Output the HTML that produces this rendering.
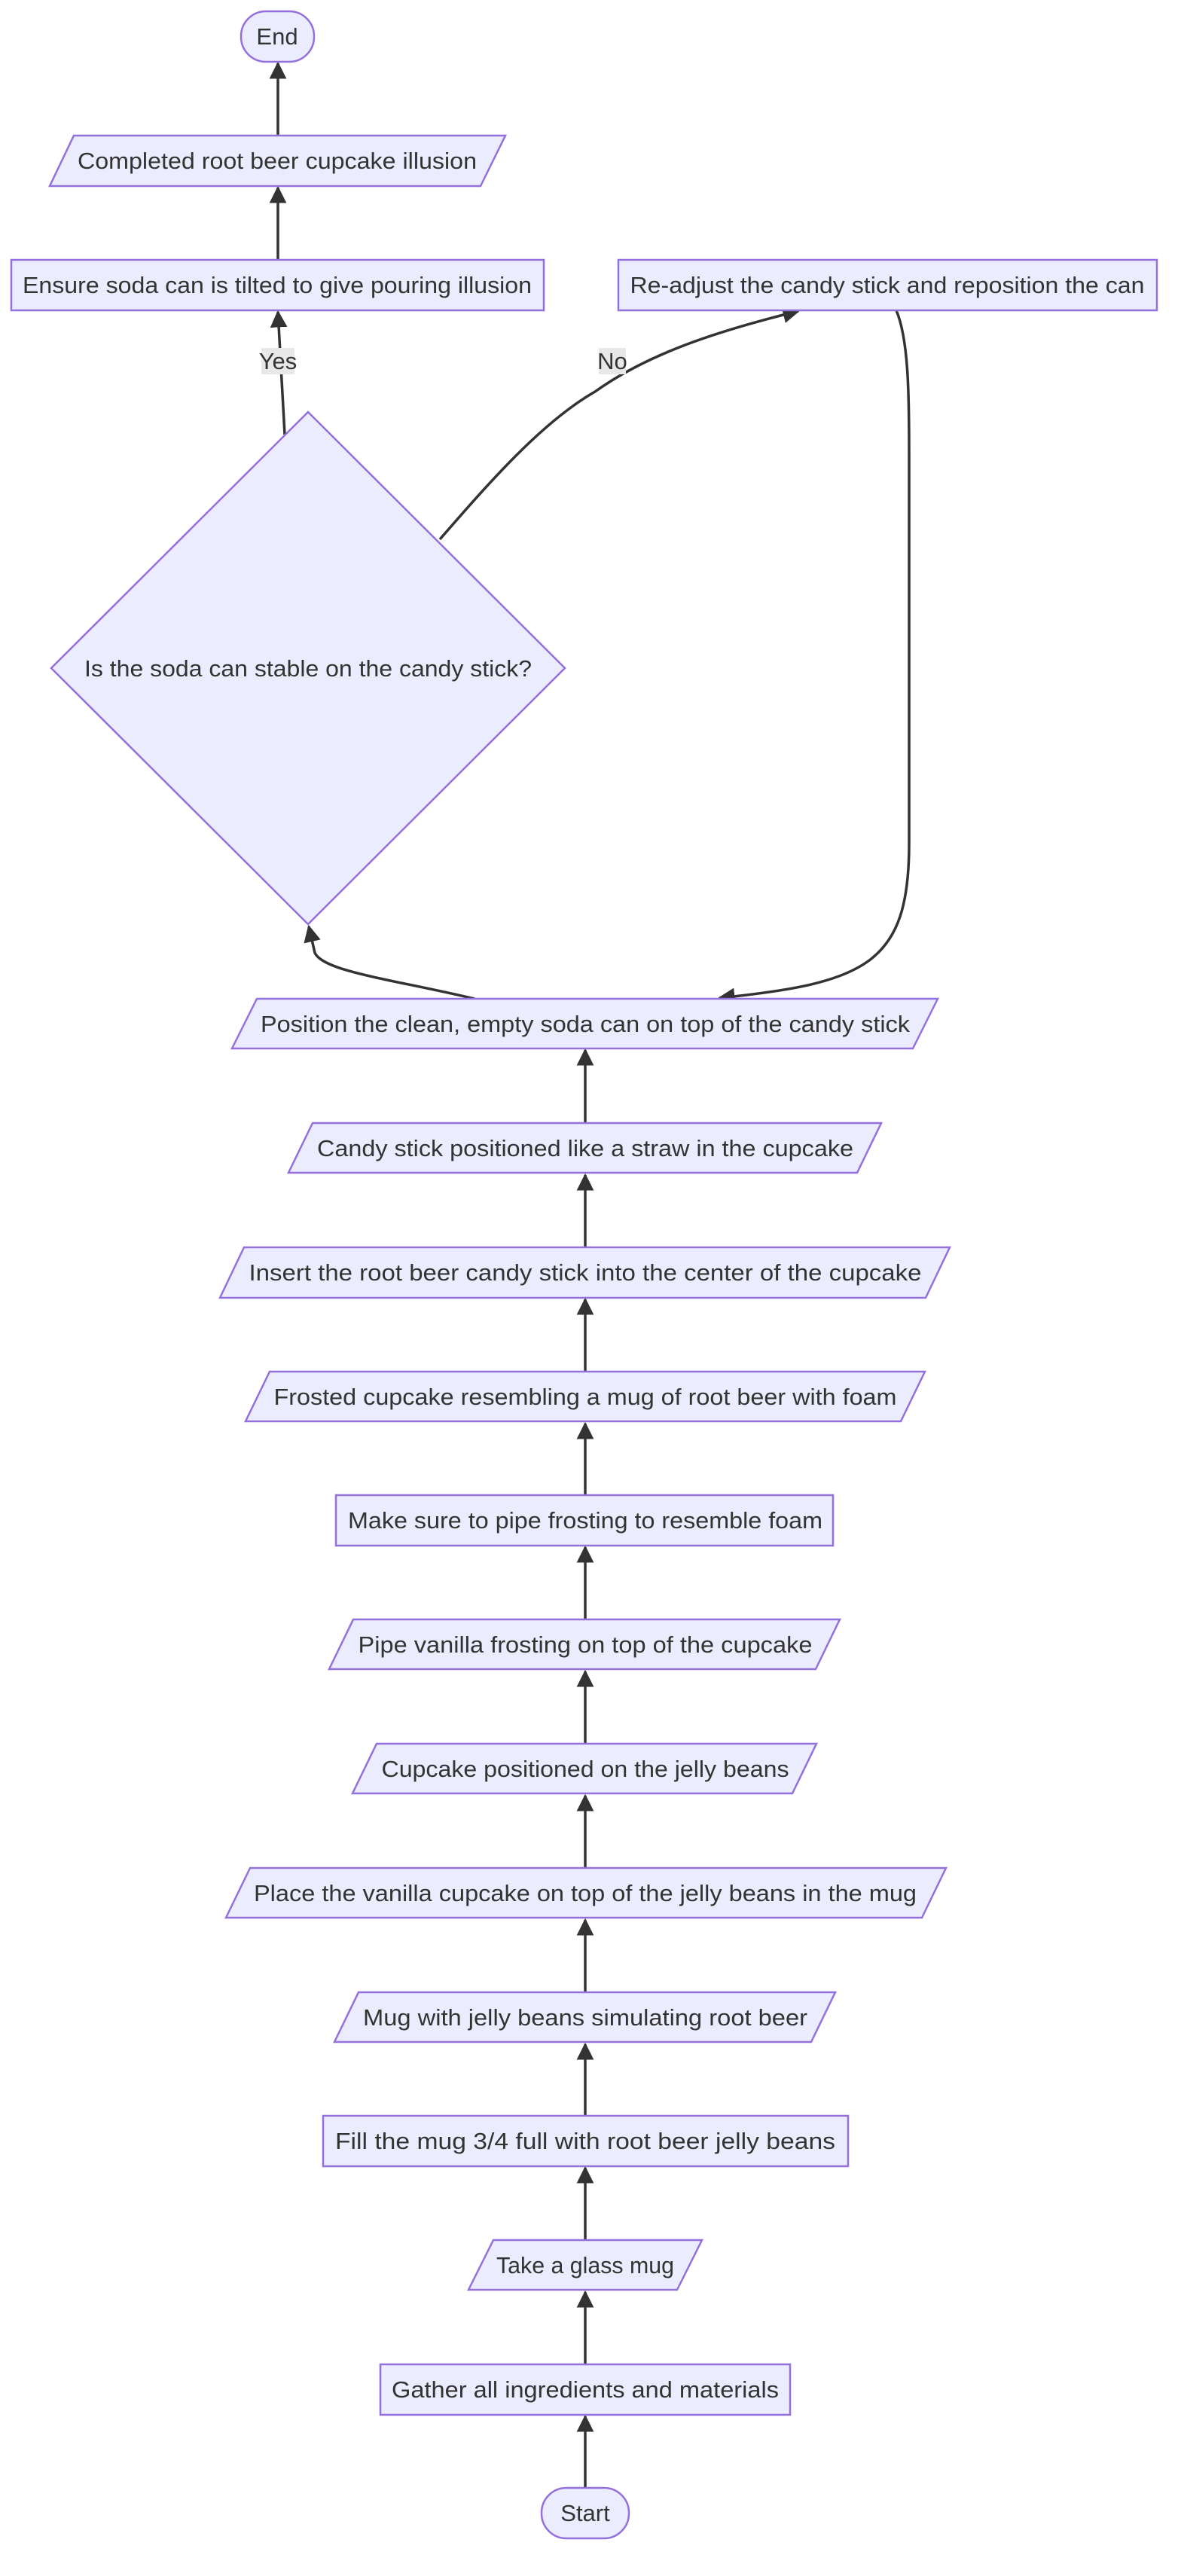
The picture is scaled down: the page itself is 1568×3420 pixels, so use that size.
<!DOCTYPE html>
<html><head><meta charset="utf-8"><style>
html,body{margin:0;padding:0;background:#fff;}
svg{display:block;}
text{font-family:"Liberation Sans","DejaVu Sans",sans-serif;font-size:31px;fill:#333;}
.n{fill:#ECECFF;stroke:#9370DB;stroke-width:2.5;}
.e{fill:none;stroke:#333;stroke-width:3.5;}
</style></head><body>
<svg width="1568" height="3420" viewBox="0 0 1568 3420" xmlns="http://www.w3.org/2000/svg">
<defs>
<marker id="a" viewBox="0 0 10 10" refX="9" refY="5" markerWidth="6.5" markerHeight="6.5" markerUnits="strokeWidth" orient="auto">
<path d="M0,0 L10,5 L0,10 z" fill="#333"/>
</marker>
</defs>

<!-- edges -->
<path class="e" d="M369,180 L369,84" marker-end="url(#a)"/>
<path class="e" d="M369,345 L369,249" marker-end="url(#a)"/>
<path class="e" d="M378,577 L369,414" marker-end="url(#a)"/>
<path class="e" d="M584,716 C650,640 720,560 790,520 C860,470 950,440 1060,413" marker-end="url(#a)"/>
<path class="e" d="M1190,412 C1206,450 1207,520 1207,600 L1207,1120 C1207,1280 1150,1305 955,1325" marker-end="url(#a)"/>
<path class="e" d="M630,1326 C520,1300 430,1290 418,1265 L410,1230" marker-end="url(#a)"/>

<g id="vert">
<path class="e" d="M777,1491 L777,1394" marker-end="url(#a)"/>
<path class="e" d="M777,1656 L777,1560" marker-end="url(#a)"/>
<path class="e" d="M777,1821 L777,1725" marker-end="url(#a)"/>
<path class="e" d="M777,1985 L777,1890" marker-end="url(#a)"/>
<path class="e" d="M777,2150 L777,2054" marker-end="url(#a)"/>
<path class="e" d="M777,2315 L777,2219" marker-end="url(#a)"/>
<path class="e" d="M777,2480 L777,2384" marker-end="url(#a)"/>
<path class="e" d="M777,2645 L777,2549" marker-end="url(#a)"/>
<path class="e" d="M777,2809 L777,2714" marker-end="url(#a)"/>
<path class="e" d="M777,2974 L777,2878" marker-end="url(#a)"/>
<path class="e" d="M777,3139 L777,3043" marker-end="url(#a)"/>
<path class="e" d="M777,3303 L777,3208" marker-end="url(#a)"/>
</g>

<!-- labels -->
<rect x="347" y="462" width="44" height="35" fill="#e8e8e8"/>
<text x="369" y="490" text-anchor="middle">Yes</text>
<rect x="795" y="462" width="36" height="35" fill="#e8e8e8"/>
<text x="813" y="490" text-anchor="middle">No</text>

<!-- top nodes -->
<rect class="n" x="320" y="15" width="97" height="67" rx="33" ry="33"/>
<text x="368" y="59" text-anchor="middle">End</text>

<polygon class="n" points="98,180 671,180 638,247 66,247"/>
<text x="368" y="224" text-anchor="middle" textLength="530" lengthAdjust="spacingAndGlyphs">Completed root beer cupcake illusion</text>

<rect class="n" x="15" y="345" width="707" height="67"/>
<text x="368" y="389" text-anchor="middle" textLength="676" lengthAdjust="spacingAndGlyphs">Ensure soda can is tilted to give pouring illusion</text>

<rect class="n" x="821" y="345" width="715" height="67"/>
<text x="1178" y="389" text-anchor="middle" textLength="683" lengthAdjust="spacingAndGlyphs">Re-adjust the candy stick and reposition the can</text>

<polygon class="n" points="409,547 750,887 409,1227 68,887"/>
<text x="409" y="898" text-anchor="middle" textLength="594" lengthAdjust="spacingAndGlyphs">Is the soda can stable on the candy stick?</text>

<!-- column nodes -->
<polygon class="n" points="341,1326 1245,1326 1212,1392 308,1392"/>
<text x="777" y="1370" text-anchor="middle" textLength="862" lengthAdjust="spacingAndGlyphs">Position the clean, empty soda can on top of the candy stick</text>

<polygon class="n" points="415,1491 1170,1491 1138,1557 383,1557"/>
<text x="777" y="1535" text-anchor="middle" textLength="712" lengthAdjust="spacingAndGlyphs">Candy stick positioned like a straw in the cupcake</text>

<polygon class="n" points="324,1656 1261,1656 1229,1723 292,1723"/>
<text x="777" y="1700" text-anchor="middle" textLength="893" lengthAdjust="spacingAndGlyphs">Insert the root beer candy stick into the center of the cupcake</text>

<polygon class="n" points="358,1821 1228,1821 1196,1887 326,1887"/>
<text x="777" y="1865" text-anchor="middle" textLength="827" lengthAdjust="spacingAndGlyphs">Frosted cupcake resembling a mug of root beer with foam</text>

<rect class="n" x="446" y="1985" width="660" height="67"/>
<text x="777" y="2029" text-anchor="middle" textLength="630" lengthAdjust="spacingAndGlyphs">Make sure to pipe frosting to resemble foam</text>

<polygon class="n" points="469,2150 1115,2150 1083,2216 437,2216"/>
<text x="777" y="2194" text-anchor="middle" textLength="603" lengthAdjust="spacingAndGlyphs">Pipe vanilla frosting on top of the cupcake</text>

<polygon class="n" points="500,2315 1084,2315 1052,2381 468,2381"/>
<text x="777" y="2359" text-anchor="middle" textLength="541" lengthAdjust="spacingAndGlyphs">Cupcake positioned on the jelly beans</text>

<polygon class="n" points="332,2480 1256,2480 1224,2546 300,2546"/>
<text x="777" y="2524" text-anchor="middle" textLength="880" lengthAdjust="spacingAndGlyphs">Place the vanilla cupcake on top of the jelly beans in the mug</text>

<polygon class="n" points="476,2645 1109,2645 1077,2711 444,2711"/>
<text x="777" y="2689" text-anchor="middle" textLength="590" lengthAdjust="spacingAndGlyphs">Mug with jelly beans simulating root beer</text>

<rect class="n" x="429" y="2809" width="697" height="67"/>
<text x="777" y="2853" text-anchor="middle" textLength="664" lengthAdjust="spacingAndGlyphs">Fill the mug 3/4 full with root beer jelly beans</text>

<polygon class="n" points="655,2974 932,2974 899,3040 622,3040"/>
<text x="777" y="3018" text-anchor="middle" textLength="236" lengthAdjust="spacingAndGlyphs">Take a glass mug</text>

<rect class="n" x="505" y="3139" width="544" height="67"/>
<text x="777" y="3183" text-anchor="middle" textLength="514" lengthAdjust="spacingAndGlyphs">Gather all ingredients and materials</text>

<rect class="n" x="719" y="3303" width="116" height="67" rx="33" ry="33"/>
<text x="777" y="3347" text-anchor="middle">Start</text>
</svg>
</body></html>
